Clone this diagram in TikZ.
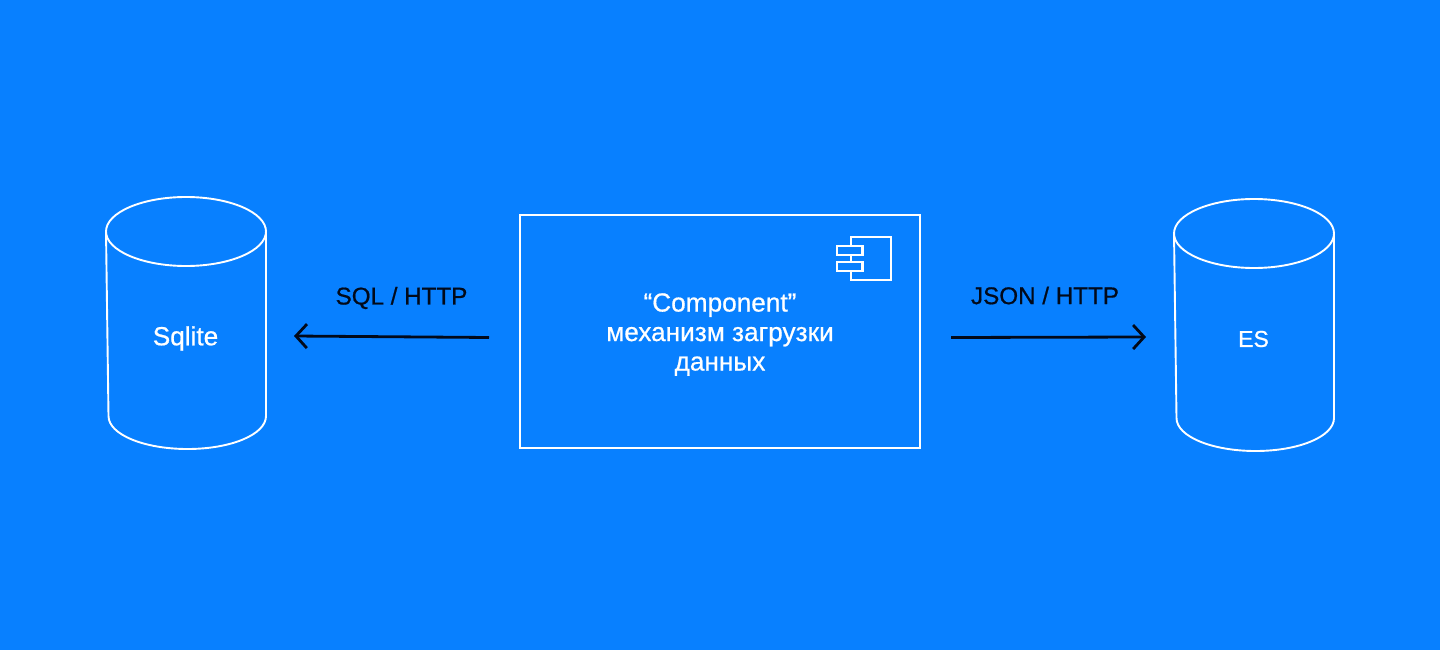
\documentclass[tikz,border=0pt]{standalone}
\usepackage{fontspec}
\setmainfont{Liberation Sans}
\newfontfamily\labelfont[FakeBold=0.7]{Liberation Sans}
\usetikzlibrary{arrows.meta}
\definecolor{bgblue}{HTML}{0880FF}
\definecolor{ink}{HTML}{020A1A}
\tikzset{
  x=1pt,y=-1pt,
  outline/.style={draw=white,line width=1.9pt,line join=round},
  boxline/.style={draw=white,line width=2.2pt},
  flow/.style={draw=ink,line width=2.8pt,-{Straight Barb[length=11pt,width=24pt,line width=2.8pt]}},
  whitetext/.style={text=white,font=\labelfont\fontsize{26.2}{29.5}\selectfont,align=center,inner sep=0pt},
  flowtext/.style={text=ink,font=\labelfont\fontsize{24.2}{30}\selectfont,inner sep=0pt},
  shorttext/.style={text=white,font=\labelfont\fontsize{23}{29.5}\selectfont,inner sep=0pt},
}
\begin{document}
\begin{tikzpicture}
\useasboundingbox (0,0) rectangle (1440,650);
\fill[bgblue] (0,0) rectangle (1440,650);
% left cylinder
\draw[outline] (186,197) .. controls (142,197) and (106,212.5) .. (106,231.5)
  .. controls (106,250.5) and (142,266) .. (186,266)
  .. controls (230,266) and (266,250.5) .. (266,231.5)
  .. controls (266,212.5) and (230,197) .. (186,197) -- cycle;
\draw[outline] (106,231.5) -- (108.5,416)
  .. controls (108.5,434.5) and (144,449) .. (187.5,449)
  .. controls (231,449) and (266,434.5) .. (266,416) -- (266,231.5);
% right cylinder
\draw[outline] (1254,199) .. controls (1210,199) and (1174,214.5) .. (1174,233.5)
  .. controls (1174,252.5) and (1210,268) .. (1254,268)
  .. controls (1298,268) and (1334,252.5) .. (1334,233.5)
  .. controls (1334,214.5) and (1298,199) .. (1254,199) -- cycle;
\draw[outline] (1174,233.5) -- (1176.5,418)
  .. controls (1176.5,436.5) and (1212,451) .. (1255.5,451)
  .. controls (1299,451) and (1334,436.5) .. (1334,418) -- (1334,233.5);
% component
\node[boxline,minimum width=400pt,minimum height=233pt,inner sep=0pt] (comp) at (720,331.5) {};
\draw[boxline] (851,245.7) -- (851,237) -- (891,237) -- (891,280) -- (851,280) -- (851,271);
\draw[boxline] (851,255) -- (851,261.7);
\draw[boxline] (837,245.7) rectangle (862.5,255);
\draw[boxline] (837,261.7) rectangle (862.5,271);
% labels
\node[whitetext] (sqlite) at (185.5,338.5) {Sqlite};
\node[shorttext] (es) at (1253.5,339) {ES};
\node[whitetext] (complabel) at (720,334.5) {“Component”\\механизм загрузки\\данных};
\node[flowtext] (sqlhttp) at (401.5,298) {SQL / HTTP};
\node[flowtext] (jsonhttp) at (1045,295.5) {JSON / HTTP};
% connectors
\coordinate (a1) at (489,337.5);
\coordinate (a2) at (294,336);
\coordinate (b1) at (951,337.5);
\coordinate (b2) at (1146,337);
\draw[flow] (a1) -- (a2);
\draw[flow] (b1) -- (b2);
\end{tikzpicture}
\end{document}
